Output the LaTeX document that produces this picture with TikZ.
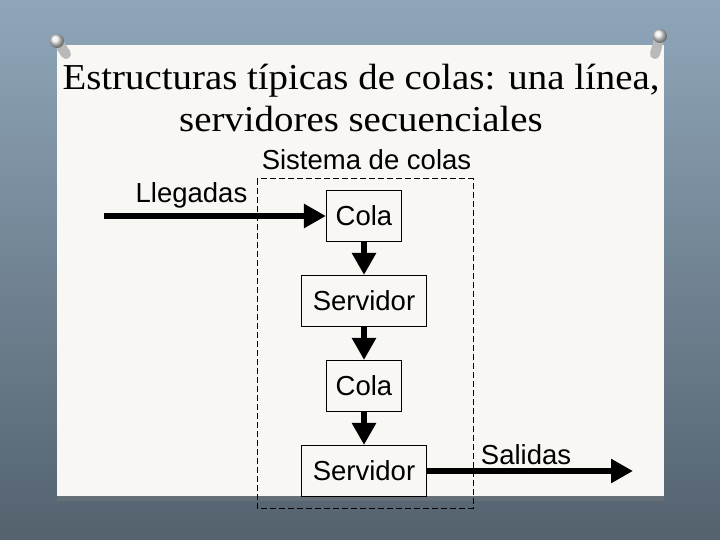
\documentclass[tikz,border=0pt]{standalone}
\usepackage{fontspec}
\setmainfont[FakeStretch=1.065]{Liberation Serif}
\newfontfamily\diagfont{Liberation Sans}
\usetikzlibrary{arrows.meta,shadows}
\definecolor{paper}{RGB}{248,247,243}
\definecolor{bgtop}{RGB}{143,166,186}
\definecolor{bgbot}{RGB}{84,98,110}
\begin{document}
\begin{tikzpicture}[x=1pt,y=-1pt,>={Triangle[length=22pt,width=23pt]},
  caja/.style={draw,line width=1.1pt,fill=paper,minimum height=51pt,inner sep=0pt,font=\diagfont\fontsize{27.5}{33}\selectfont},
  etiq/.style={anchor=base,font=\diagfont\fontsize{27.5}{33}\selectfont},
  titulo/.style={anchor=base,font=\fontsize{36.5}{42}\selectfont},
  flujo/.style={->,line width=5.5pt}]
\useasboundingbox (0,0) rectangle (720,540);
% backdrop and slide sheet
\shade[top color=bgtop,bottom color=bgbot] (0,0) rectangle (720,540);
\fill[paper,drop shadow={opacity=0.35,shadow xshift=0pt,shadow yshift=-5pt}] (57,45) rectangle (664,496);
% pins
\draw[line width=10pt,line cap=round,gray!55] (66,54) -- (58,42);
\shade[ball color=gray!15] (57,41) circle (7pt);
\draw[line width=10pt,line cap=round,gray!55] (655,54) -- (659,39);
\shade[ball color=gray!15] (660,36) circle (7pt);
% title
\node (tit1) [titulo] at (361,90) {Estructuras típicas de colas: una línea,};
\node (tit2) [titulo] at (361,132) {servidores secuenciales};
% system boundary
\draw[line width=1pt,dash pattern=on 6pt off 3pt] (257,179) rectangle (473,508);
\node (sis) [etiq] at (366.5,170) {Sistema de colas};
% stations
\node (colaA) [caja,minimum width=75pt] at (364,216) {Cola};   \node (servA) [caja,minimum width=125pt] at (364,301) {Servidor};
\node (colaB) [caja,minimum width=75pt] at (364,386) {Cola};   \node (servB) [caja,minimum width=125pt] at (364,471) {Servidor};
\coordinate (llegIn) at (104,216);  \coordinate (salOut) at (633,471);
\foreach \A/\B in {llegIn/colaA,colaA/servA,servA/colaB,colaB/servB,servB/salOut}{\draw[flujo] (\A) -- (\B);}
% flow labels
\node (lleg) [etiq] at (191.5,203) {Llegadas};
\node (sal) [etiq] at (526,464) {Salidas};
\end{tikzpicture}
\end{document}
